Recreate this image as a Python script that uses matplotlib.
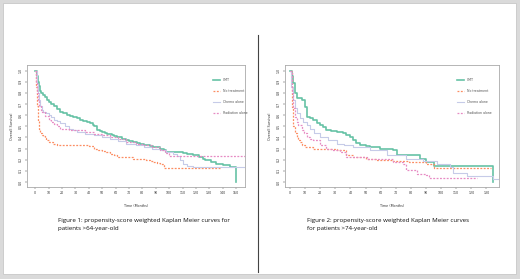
import matplotlib
matplotlib.use("Agg")
import matplotlib.pyplot as plt
from matplotlib.patches import Rectangle
from matplotlib.lines import Line2D

# colours (Set2-ish, as in the R plots)
c_cmt = "#66c2a5"
c_none = "#fc8d62"
c_chemo = "#c6cbe8"
c_rad = "#e78ac3"

labels = ["CMT", "No treatment", "Chemo alone", "Radiation alone"]

# ---- Figure 1 : patients >64 years old ----
f1_cmt_t = [0, 1.5, 2, 2.5, 3.2, 3.7, 4.5, 6, 7, 8.5, 10, 12, 14, 16, 18.6, 21, 23.6, 26, 28, 31,
            33.6, 36, 39, 41, 43, 44, 46, 48, 50, 52, 53.5, 55, 57, 59, 61, 63, 65, 68, 70, 73, 76,
            78, 81, 83, 86, 88, 91, 93, 96, 98, 101, 105, 110, 113, 118, 122, 125, 127, 131, 135,
            140, 145.5, 150]
f1_cmt_s = [1.0, 0.95, 0.90, 0.86, 0.84, 0.82, 0.80, 0.78, 0.76, 0.74, 0.72, 0.70, 0.68, 0.655,
            0.63, 0.615, 0.60, 0.59, 0.58, 0.57, 0.556, 0.545, 0.535, 0.53, 0.515, 0.50, 0.47, 0.46,
            0.45, 0.44, 0.435, 0.43, 0.42, 0.41, 0.405, 0.40, 0.39, 0.375, 0.37, 0.36, 0.35, 0.345,
            0.335, 0.33, 0.32, 0.315, 0.31, 0.30, 0.285, 0.27, 0.265, 0.265, 0.26, 0.255, 0.24, 0.22,
            0.21, 0.20, 0.18, 0.165, 0.15, 0.135, 0.0]
f1_none_t = [0, 0.8, 1.2, 2, 2.5, 3.7, 5, 6, 7, 8, 10, 13, 16, 31, 40, 43.5, 47, 50, 53, 56, 59, 61,
             68, 73, 78, 83, 86, 88, 91, 93, 96, 139]
f1_none_s = [1.0, 0.85, 0.68, 0.55, 0.48, 0.44, 0.425, 0.41, 0.395, 0.38, 0.36, 0.345, 0.336, 0.33,
             0.32, 0.30, 0.29, 0.28, 0.265, 0.255, 0.24, 0.225, 0.22, 0.21, 0.205, 0.20, 0.19, 0.18,
             0.17, 0.16, 0.126, 0.126]
f1_chemo_t = [0, 1.2, 2, 2.8, 3.7, 5, 6, 8, 10, 12, 14, 16, 18.6, 22, 25, 28, 31, 37, 43.5, 50, 56,
              62, 68, 75, 81, 87, 93, 98, 103, 106, 108, 110, 113, 118, 157]
f1_chemo_s = [1.0, 0.88, 0.80, 0.74, 0.68, 0.65, 0.63, 0.615, 0.60, 0.58, 0.56, 0.545, 0.525, 0.50,
              0.48, 0.465, 0.45, 0.435, 0.42, 0.405, 0.39, 0.365, 0.345, 0.33, 0.315, 0.30, 0.285,
              0.27, 0.255, 0.23, 0.20, 0.165, 0.14, 0.135, 0.135]
f1_rad_t = [0, 0.7, 1.2, 2, 3, 4, 5, 7, 10, 12, 14, 16, 18.6, 25, 31, 37, 43.5, 50, 56, 62, 68, 75,
            81, 87, 93, 97, 100, 157]
f1_rad_s = [1.0, 0.90, 0.80, 0.73, 0.68, 0.65, 0.63, 0.59, 0.556, 0.54, 0.52, 0.50, 0.48, 0.47,
            0.465, 0.45, 0.435, 0.42, 0.405, 0.385, 0.36, 0.345, 0.33, 0.31, 0.285, 0.26, 0.23, 0.23]

# ---- Figure 2 : patients >74 years old ----
f2_cmt_t = [0, 1.5, 2.2, 3.3, 4.4, 7.7, 9.9, 11, 13, 15.4, 18, 20, 22, 24, 27, 31, 35, 37, 40, 42,
            44, 46, 50, 53, 59.5, 68, 70.5, 84, 86, 90, 95, 134]
f2_cmt_s = [1.0, 0.95, 0.886, 0.80, 0.75, 0.735, 0.675, 0.585, 0.57, 0.556, 0.53, 0.51, 0.49, 0.465,
            0.455, 0.45, 0.44, 0.42, 0.40, 0.375, 0.35, 0.33, 0.32, 0.315, 0.30, 0.285, 0.24, 0.24,
            0.205, 0.18, 0.147, 0.0]
f2_none_t = [0, 1.1, 2.2, 3.3, 4.4, 5.5, 6.6, 8, 9.9, 15.4, 31, 37, 42, 50, 57, 68, 79, 90, 95, 133]
f2_none_s = [1.0, 0.675, 0.5, 0.44, 0.405, 0.38, 0.36, 0.33, 0.315, 0.30, 0.285, 0.24, 0.225, 0.21,
             0.195, 0.19, 0.18, 0.165, 0.13, 0.13]
f2_chemo_t = [0, 0.5, 2, 3, 4.4, 6.6, 8.8, 11, 13.2, 16, 20, 25, 31, 36, 42, 53, 64, 77, 88, 97, 106,
              108, 117, 134, 139]
f2_chemo_s = [1.0, 0.85, 0.735, 0.66, 0.615, 0.575, 0.54, 0.51, 0.48, 0.44, 0.405, 0.375, 0.345,
              0.33, 0.315, 0.285, 0.24, 0.21, 0.185, 0.165, 0.135, 0.08, 0.05, 0.03, 0.03]
f2_rad_t = [0, 1.1, 2.2, 3.3, 4.4, 5.5, 7.7, 9, 11, 13, 15.4, 20, 24, 28, 33, 37, 51, 68, 75, 77, 84,
            90, 92, 124]
f2_rad_s = [1.0, 0.80, 0.66, 0.585, 0.54, 0.51, 0.465, 0.44, 0.405, 0.39, 0.375, 0.33, 0.30, 0.285,
            0.27, 0.225, 0.21, 0.18, 0.165, 0.105, 0.075, 0.06, 0.036, 0.036]

captions = ["Figure 1: propensity-score weighted Kaplan Meier curves for\npatients >64-year-old",
            "Figure 2: propensity-score weighted Kaplan Meier curves\nfor patients >74-year-old"]

fig = plt.figure(figsize=(5.2, 2.79), dpi=100, facecolor="#dadada")
W, H = 520.0, 279.0

# white page (behind everything)
fig.patches.append(Rectangle((3 / W, 1 - 274 / H), 513 / W, 271 / H, transform=fig.transFigure,
                             facecolor="white", edgecolor="#c8c8c8", linewidth=0.6, zorder=-10))
# divider line between the two figures
fig.add_artist(Line2D([258 / W, 258 / W], [1 - 35 / H, 1 - 272 / H], transform=fig.transFigure,
                      color="#444444", linewidth=0.8))


def km_panel(ax, curves, xmax, xlim, leg_x):
    styles = [dict(color=c_cmt, lw=1.2, ls="-"),
              dict(color=c_none, lw=0.9, ls=(0, (1.5, 1.2))),
              dict(color=c_chemo, lw=0.8, ls="-"),
              dict(color=c_rad, lw=0.9, ls=(0, (1.5, 1.2)))]
    for (t, s), st, lab in zip(curves, styles, labels):
        ax.step(t, s, where="post", label=lab, **st)
    ax.set_xlim(*xlim)
    ax.set_ylim(-0.045, 1.05)
    ax.set_xticks(range(0, xmax + 1, 10))
    ax.set_yticks([i / 10 for i in range(11)])
    ax.set_yticklabels([f"{i / 10:.1f}" for i in range(11)], rotation=90, va="center")
    ax.tick_params(labelsize=2.3, length=1.2, width=0.3, pad=2, colors="#333333")
    for sp in ax.spines.values():
        sp.set_color("#aaaaaa")
        sp.set_linewidth(0.6)
    ax.set_xlabel("Time (Months)", fontsize=2.4, labelpad=6, color="#333333")
    ax.set_ylabel("Overall Survival", fontsize=2.4, labelpad=3, color="#333333")
    leg = ax.legend(loc="upper left", bbox_to_anchor=(leg_x, 0.92), frameon=False, fontsize=2.3,
                    handlelength=2.2, labelspacing=2.2, handletextpad=1.0)
    for txt in leg.get_texts():
        txt.set_color("#555555")


ax1 = fig.add_axes([27 / W, 1 - 187 / H, 218 / W, 122 / H])
km_panel(ax1, [(f1_cmt_t, f1_cmt_s), (f1_none_t, f1_none_s), (f1_chemo_t, f1_chemo_s),
               (f1_rad_t, f1_rad_s)], 150, (-6.2, 156.7), 0.84)

ax2 = fig.add_axes([285 / W, 1 - 187 / H, 214 / W, 122 / H])
km_panel(ax2, [(f2_cmt_t, f2_cmt_s), (f2_none_t, f2_none_s), (f2_chemo_t, f2_chemo_s),
               (f2_rad_t, f2_rad_s)], 130, (-3.3, 138.3), 0.79)

fig.text(58 / W, 1 - 218 / H, captions[0], fontsize=4.4, family="Open Sans", va="top",
         linespacing=1.75, color="#111111")
fig.text(307 / W, 1 - 218 / H, captions[1], fontsize=4.4, family="Open Sans", va="top",
         linespacing=1.75, color="#111111")

fig.savefig("out.png", dpi=100, facecolor=fig.get_facecolor())
